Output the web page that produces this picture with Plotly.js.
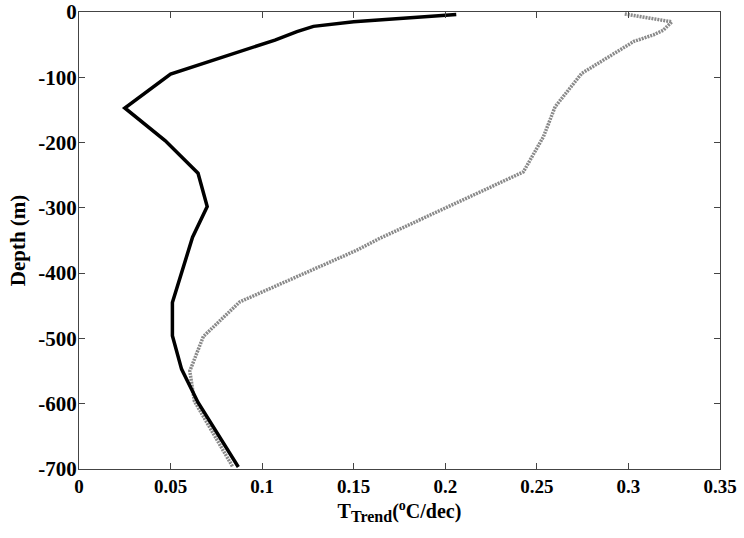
<!DOCTYPE html>
<html>
<head>
<meta charset="utf-8">
<script src="https://cdn.plot.ly/plotly-3.0.1.min.js"></script>
<style>html,body{margin:0;padding:0;background:#fff;}#chart{width:744px;height:538px;}</style>
</head>
<body>
<div id="chart"></div>
<script>
// Black (solid) profile
const blackTrend = [0.206, 0.150, 0.128, 0.119, 0.107, 0.050, 0.025, 0.047, 0.065, 0.070, 0.062, 0.056, 0.051, 0.051, 0.056, 0.065, 0.087];
const blackDepth = [-4, -15, -22, -30, -43, -95, -147, -197, -247, -298, -345, -400, -445, -496, -547, -598, -697];
// Grey (dotted) profile
const greyTrend = [0.298, 0.3237, 0.319, 0.3137, 0.303, 0.2745, 0.260, 0.2536, 0.2426, 0.200, 0.164, 0.1516, 0.123, 0.0878, 0.0679, 0.0605, 0.063, 0.084];
const greyDepth = [-3, -15, -28, -35, -45, -94, -145, -191, -245, -300, -347, -365, -400, -444, -497, -550, -596, -697];
// Tick labels
const xTickVals = [0, 0.05, 0.1, 0.15, 0.2, 0.25, 0.3, 0.35];
const xTickText = ['0', '0.05', '0.1', '0.15', '0.2', '0.25', '0.3', '0.35'];
const yTickVals = [0, -100, -200, -300, -400, -500, -600, -700];
const yTickText = ['0', '-100', '-200', '-300', '-400', '-500', '-600', '-700'];

const fam = '"Liberation Serif", "Times New Roman", serif';

const traces = [
  {x: greyTrend, y: greyDepth, mode: 'lines', line: {color: '#8a8a8a', width: 3.5, dash: '2px,1px'}, showlegend: false, hoverinfo: 'skip'},
  {x: blackTrend, y: blackDepth, mode: 'lines', line: {color: '#000', width: 3.5}, showlegend: false, hoverinfo: 'skip'}
];

const axisCommon = {
  showgrid: false, zeroline: false, showline: true, mirror: 'ticks',
  linecolor: '#444', linewidth: 1, ticks: 'inside', ticklen: 6, tickcolor: '#444', tickwidth: 1
};

const layout = {
  width: 744, height: 538,
  margin: {l: 79, r: 24, t: 12, b: 69},
  paper_bgcolor: '#fff', plot_bgcolor: '#fff',
  font: {family: fam, size: 18, color: '#000'},
  xaxis: Object.assign({}, axisCommon, {
    range: [0, 0.35], tickvals: xTickVals, ticktext: xTickText,
    tickfont: {family: fam, size: 19, color: '#000', weight: 'bold'},
    title: {text: '<b>T<sub><span style="font-size:16px">Trend</span></sub>(<sup>o</sup>C/dec)</b>', font: {family: fam, size: 20, color: '#000'}, standoff: 8}
  }),
  yaxis: Object.assign({}, axisCommon, {
    range: [-700, 0], tickvals: yTickVals, ticktext: yTickText,
    ticklabelstandoff: -3,
    tickfont: {family: fam, size: 21, color: '#000', weight: 'bold'},
    title: {text: '<b>Depth (m)</b>', font: {family: fam, size: 21, color: '#000'}, standoff: 6}
  })
};

Plotly.newPlot('chart', traces, layout, {staticPlot: true, displayModeBar: false});
</script>
</body>
</html>
